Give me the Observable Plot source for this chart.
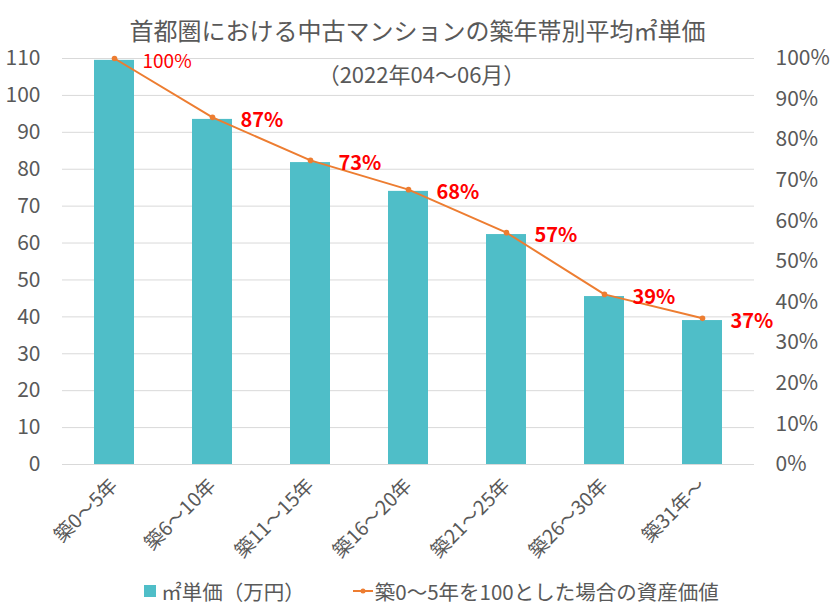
<!DOCTYPE html>
<html><head><meta charset="utf-8">
<script src="https://cdn.jsdelivr.net/npm/d3@7"></script>
<script src="https://cdn.jsdelivr.net/npm/@observablehq/plot@0.6"></script>
<style>
body{margin:0;background:#fff;font-family:"Noto Sans CJK JP",sans-serif;color:#595959;}
#wrap{position:relative;width:831px;height:607px;overflow:hidden;}
#title{position:absolute;left:0;width:831px;top:13px;text-align:center;font-size:24px;line-height:34px;color:#595959;padding-left:2px;}
#sub{position:absolute;left:0;width:831px;top:58px;text-align:center;font-size:22px;line-height:30px;color:#595959;padding-left:6px;}
#chart{position:absolute;left:0;top:0;}
#legend{position:absolute;left:16px;width:831px;top:577px;display:flex;justify-content:center;align-items:center;font-size:20.5px;line-height:28px;color:#595959;}
.sw{display:inline-block;width:12px;height:12px;background:#4FBEC8;margin-right:5px;}
.item{display:flex;align-items:center;margin:0 24px;}
</style></head>
<body>
<div id="wrap">
<div id="chart"></div>
<div id="title">首都圏における中古マンションの築年帯別平均㎡単価</div>
<div id="sub">（2022年04～06月）</div>
<div id="legend">
  <div class="item"><span class="sw"></span><span>㎡単価（万円）</span></div>
  <div class="item"><svg width="20" height="12" style="margin-right:2px"><line x1="0" y1="6" x2="20" y2="6" stroke="#ED7D31" stroke-width="2"/><circle cx="10" cy="6" r="2.5" fill="#ED7D31"/></svg><span>築0～5年を100とした場合の資産価値</span></div>
</div>
</div>
<script>
const categories = ["築0～5年","築6～10年","築11～15年","築16～20年","築21～25年","築26～30年","築31年～"];
const price = [109.5, 93.5, 81.8, 74.0, 62.3, 45.5, 39.0];
const ratio = [100, 85.5, 74.9, 67.7, 57.1, 41.9, 36.0];
const ratioLabels = ["100%","87%","73%","68%","57%","39%","37%"];
const leftTicks = [0,10,20,30,40,50,60,70,80,90,100,110];
const pctTicks = [0,10,20,30,40,50,60,70,80,90,100];

const rows = categories.map((c,i)=>({cat:c, price:price[i], ratio:ratio[i], label:ratioLabels[i], y2: ratio[i]*1.1}));
const first = rows.slice(0,1), rest = rows.slice(1);

const chart = Plot.plot({
  width: 831, height: 566,
  marginLeft: 62, marginRight: 77, marginTop: 58, marginBottom: 102,
  style: {fontFamily: '"Noto Sans CJK JP", sans-serif', color: "#595959", background: "transparent"},
  x: {domain: categories, paddingInner: 0.59, paddingOuter: 0.295, label: null},
  y: {domain: [0,110], label: null},
  marks: [
    Plot.gridY(leftTicks, {stroke: "#d9d9d9", strokeOpacity: 1, strokeWidth: 1}),
    Plot.barY(rows, {x: "cat", y: "price", fill: "#4FBEC8"}),
    Plot.lineY(rows, {x: "cat", y: "y2", stroke: "#ED7D31", strokeWidth: 2}),
    Plot.dot(rows, {x: "cat", y: "y2", r: 2.8, fill: "#ED7D31"}),
    Plot.text(first, {x: "cat", y: "y2", text: "label", fill: "#FF0000", fontSize: 19, textAnchor: "start", dx: 28, dy: 3}),
    Plot.text(rest, {x: "cat", y: "y2", text: "label", fill: "#FF0000", fontSize: 20, fontWeight: "bold", textAnchor: "start", dx: 28, dy: 3}),
    Plot.axisY(leftTicks, {anchor: "left", tickSize: 0, tickPadding: 22, fontSize: 21, fill: "#595959", label: null}),
    Plot.axisY(pctTicks.map(p=>p*1.1), {anchor: "right", tickSize: 0, tickPadding: 21, fontSize: 21, fill: "#595959", textAnchor: "start", tickFormat: d => Math.round(d/1.1) + "%", label: null}),
    Plot.axisX({anchor: "bottom", tickSize: 0, tickPadding: 18, tickRotate: -45, fontSize: 19.5, fill: "#595959", label: null})
  ]
});
document.getElementById("chart").appendChild(chart);
</script>
</body></html>
